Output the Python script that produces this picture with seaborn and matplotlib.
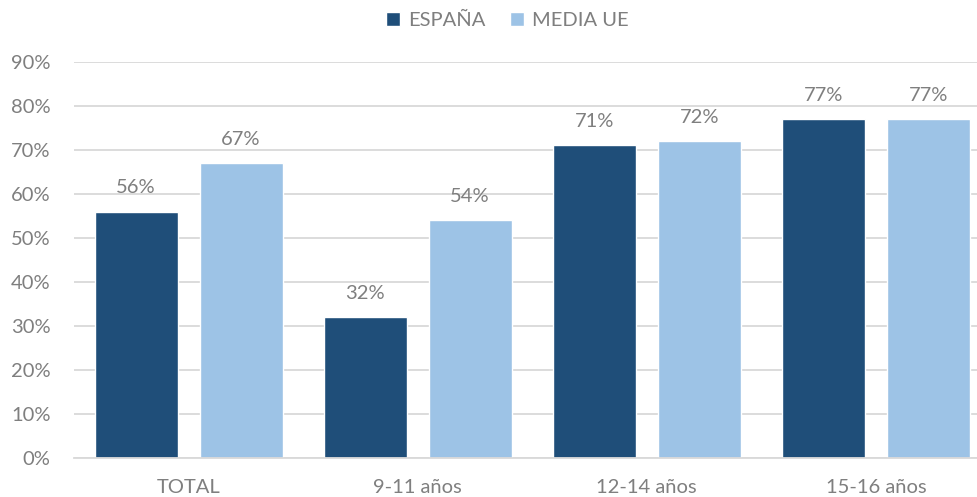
import pandas as pd
import matplotlib.pyplot as plt
import seaborn as sns
import matplotlib.ticker as ticker

categorias = ['TOTAL', '9-11 años', '12-14 años', '15-16 años']
espana = [56, 32, 71, 77]
media_ue = [67, 54, 72, 77]

OSCURO = '#1F4E79'
CLARO = '#9DC3E6'
GRIS = '#7F7F7F'

df = pd.DataFrame({
    'grupo': categorias * 2,
    'serie': ['ESPAÑA'] * 4 + ['MEDIA UE'] * 4,
    'valor': espana + media_ue,
})

sns.set_style('white')
plt.rcParams['font.family'] = ['Lato', 'DejaVu Sans']

fig = plt.figure(figsize=(9.78, 4.97), dpi=100)
ax = fig.add_axes([0.0757, 0.0785, 0.937, 0.797])

sns.barplot(data=df, x='grupo', y='valor', hue='serie',
            palette={'ESPAÑA': OSCURO, 'MEDIA UE': CLARO},
            width=0.917, gap=0.21, saturation=1, ax=ax, legend=True)

for cont in ax.containers:
    ax.bar_label(cont, labels=[f'{v:.0f}%' for v in cont.datavalues],
                 padding=11, color=GRIS, fontsize=14.5)

ax.set_ylim(0, 90)
ax.yaxis.set_major_locator(ticker.MultipleLocator(10))
ax.yaxis.set_major_formatter(ticker.FuncFormatter(lambda v, p: f'{v:.0f}%'))
ax.grid(axis='y', color='#D9D9D9', linewidth=1.3)
ax.set_axisbelow(True)
for s in ['top', 'right', 'left']:
    ax.spines[s].set_visible(False)
ax.spines['bottom'].set_color('#D9D9D9')
ax.spines['bottom'].set_linewidth(1.3)
ax.tick_params(axis='both', length=0, labelsize=14.5, labelcolor=GRIS)
ax.tick_params(axis='y', pad=17)
ax.tick_params(axis='x', pad=15)
ax.set_xlabel('')
ax.set_ylabel('')

handles, labels = ax.get_legend_handles_labels()
ax.get_legend().remove()
fig.legend(handles, labels, loc='center', bbox_to_anchor=(0.519, 0.958),
           ncol=2, frameon=False, fontsize=14.5, labelcolor=GRIS,
           handlelength=0.7, handleheight=0.7, handletextpad=0.4, columnspacing=1.2)

fig.savefig('out.png', dpi=100)
